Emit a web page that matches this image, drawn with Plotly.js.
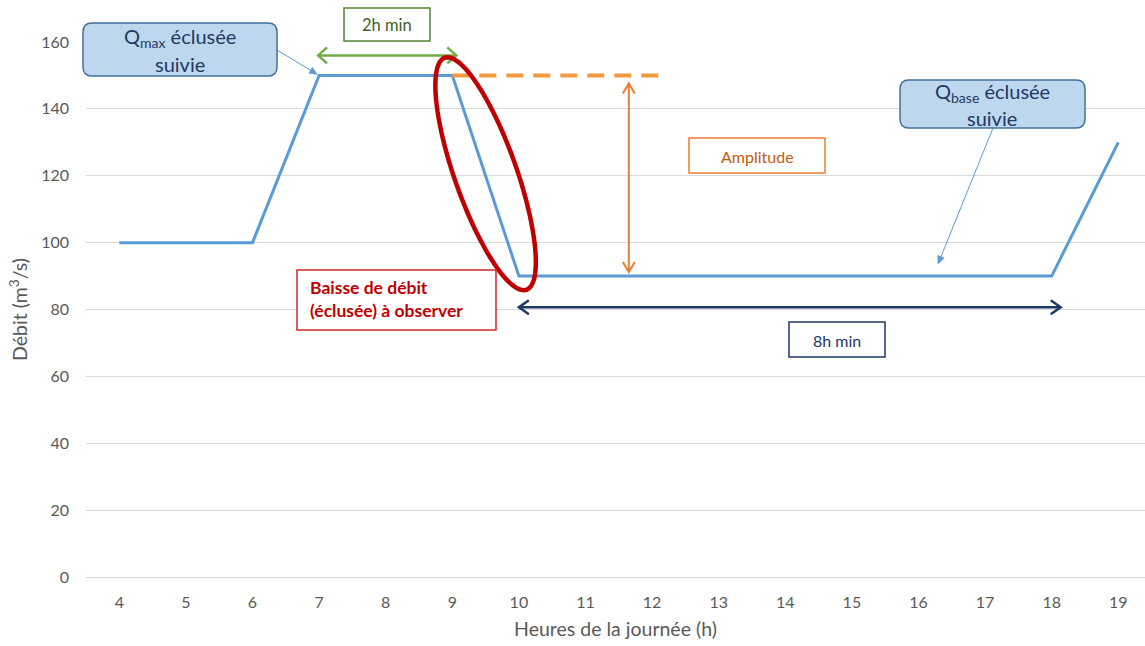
<!DOCTYPE html>
<html>
<head>
<meta charset="utf-8">
<script src="https://cdn.plot.ly/plotly-3.0.1.min.js"></script>
<style>
  html, body { margin: 0; padding: 0; background: #fff; }
  #chart { width: 1145px; height: 646px; }
</style>
</head>
<body>
<div id="chart"></div>
<script>
// Débit horaire au cours de la journée (m3/s)
const heures = [4, 5, 6, 7, 8, 9, 10, 11, 12, 13, 14, 15, 16, 17, 18, 19];
const debit = [100, 100, 100, 150, 150, 150, 90, 90, 90, 90, 90, 90, 90, 90, 90, 130];
const tickHeures = heures.map(String);

// Repères de l'éclusée : palier haut (2h min) et palier bas (8h min)
const palierHaut = [7, 9];
const palierBas = [10, 18];
const qMax = Math.max(...debit);
const qBase = Math.min(...debit);

// Géométrie du graphique
const W = 1145, H = 646;
const M = { l: 86, r: 0, t: 42, b: 69 };
const PW = W - M.l - M.r, PH = H - M.t - M.b;
const pxPerHour = 66.6;
const xRange = [3.5, 3.5 + PW / pxPerHour];
const yRange = [0, 160];
const pxPerY = PH / (yRange[1] - yRange[0]);

const FONT = 'Lato, "Open Sans", sans-serif';
const GREY = '#595959';

function toPx(x, y) { return [M.l + (x - xRange[0]) * pxPerHour, M.t + (yRange[1] - y) * pxPerY]; }
function fromPx(px, py) { return [xRange[0] + (px - M.l) / pxPerHour, yRange[1] - (py - M.t) / pxPerY]; }
function paperX(px) { return (px - M.l) / PW; }
function paperY(py) { return (H - M.b - py) / PH; }
const pt = (px, py) => { const d = fromPx(px, py); return d[0] + ',' + d[1]; };

// Flèche à deux pointes ouvertes, entre deux points en données
function doubleArrow(p1, p2, color, width, head, gap1 = 0, gap2 = 0) {
  const a = toPx(p1[0], p1[1]), b = toPx(p2[0], p2[1]);
  const dx = b[0] - a[0], dy = b[1] - a[1];
  const len = Math.hypot(dx, dy);
  const ux = dx / len, uy = dy / len;
  const nx = -uy, ny = ux;
  const s = [a[0] + ux * gap1, a[1] + uy * gap1];
  const e = [b[0] - ux * gap2, b[1] - uy * gap2];
  const chevron = (tip, dir) => {
    const bx = tip[0] - dir * ux * head.len, by = tip[1] - dir * uy * head.len;
    return 'M' + pt(bx + nx * head.half, by + ny * head.half) +
           'L' + pt(tip[0], tip[1]) +
           'L' + pt(bx - nx * head.half, by - ny * head.half);
  };
  const line = { color: color, width: width };
  return [
    { type: 'path', xref: 'x', yref: 'y', layer: 'above', line: line,
      path: 'M' + pt(s[0], s[1]) + 'L' + pt(e[0], e[1]) },
    { type: 'path', xref: 'x', yref: 'y', layer: 'above', line: line, path: chevron(s, -1) },
    { type: 'path', xref: 'x', yref: 'y', layer: 'above', line: line, path: chevron(e, 1) }
  ];
}

// Trait fin avec pointe pleine, d'une étiquette vers un point de la courbe
function pointer(tail, target, standoff, color) {
  const b = toPx(target[0], target[1]);
  const dx = b[0] - tail[0], dy = b[1] - tail[1];
  const len = Math.hypot(dx, dy);
  const ux = dx / len, uy = dy / len, nx = -uy, ny = ux;
  const tip = [b[0] - ux * standoff, b[1] - uy * standoff];
  const hl = 8, hw = 3.5;
  const base = [tip[0] - ux * hl, tip[1] - uy * hl];
  return [
    { type: 'path', xref: 'x', yref: 'y', layer: 'above', line: { color: color, width: 1 },
      path: 'M' + pt(tail[0], tail[1]) + 'L' + pt(base[0], base[1]) },
    { type: 'path', xref: 'x', yref: 'y', layer: 'above', line: { color: color, width: 0.5 }, fillcolor: color,
      path: 'M' + pt(tip[0], tip[1]) + 'L' + pt(base[0] + nx * hw, base[1] + ny * hw) +
            'L' + pt(base[0] - nx * hw, base[1] - ny * hw) + 'Z' }
  ];
}

// Rectangle (arrondi ou non) en pixels, tracé en coordonnées papier
function boxShape(x0, y0, x1, y1, r, fill, stroke, sw) {
  const P = (px, py) => paperX(px) + ',' + paperY(py);
  let path;
  if (r > 0) {
    path = 'M' + P(x0 + r, y0) + 'L' + P(x1 - r, y0) + 'Q' + P(x1, y0) + ' ' + P(x1, y0 + r) +
           'L' + P(x1, y1 - r) + 'Q' + P(x1, y1) + ' ' + P(x1 - r, y1) +
           'L' + P(x0 + r, y1) + 'Q' + P(x0, y1) + ' ' + P(x0, y1 - r) +
           'L' + P(x0, y0 + r) + 'Q' + P(x0, y0) + ' ' + P(x0 + r, y0) + 'Z';
  } else {
    path = 'M' + P(x0, y0) + 'L' + P(x1, y0) + 'L' + P(x1, y1) + 'L' + P(x0, y1) + 'Z';
  }
  return { type: 'path', xref: 'paper', yref: 'paper', layer: 'above', path: path,
           fillcolor: fill, line: { color: stroke, width: sw } };
}

function label(text, px, py, size, color, extra = {}) {
  return Object.assign({
    text: text, xref: 'paper', yref: 'paper', x: paperX(px), y: paperY(py),
    xanchor: 'center', yanchor: 'middle', showarrow: false,
    font: { family: FONT, size: size, color: color }
  }, extra);
}

// Ellipse rouge autour de la baisse de débit
function ellipseShape() {
  const i = debit.indexOf(qMax, heures.indexOf(palierHaut[1]));
  const a = toPx(heures[i], debit[i]), b = toPx(heures[i + 1], debit[i + 1]);
  const cx = (a[0] + b[0]) / 2, cy = (a[1] + b[1]) / 2 - 2;
  const rA = 123, rB = 31, ang = 70.6 * Math.PI / 180;
  let path = '';
  for (let k = 0; k <= 96; k++) {
    const t = 2 * Math.PI * k / 96;
    const px = cx + rA * Math.cos(t) * Math.cos(ang) - rB * Math.sin(t) * Math.sin(ang);
    const py = cy + rA * Math.cos(t) * Math.sin(ang) + rB * Math.sin(t) * Math.cos(ang);
    path += (k === 0 ? 'M' : 'L') + pt(px, py);
  }
  return { type: 'path', xref: 'x', yref: 'y', layer: 'above', path: path + 'Z',
           line: { color: '#C00000', width: 4.5 } };
}

const traces = [
  {
    type: 'scatter', mode: 'lines', x: heures, y: debit,
    line: { color: '#5B9BD5', width: 3 }, hoverinfo: 'x+y', showlegend: false
  }
];

const shapes = [
  // niveau Qmax prolongé (pointillés)
  { type: 'line', xref: 'x', yref: 'y', layer: 'above', x0: palierHaut[1], x1: 12.15, y0: qMax, y1: qMax,
    line: { color: '#F29A3F', width: 4, dash: '17px,10px' } },
  ...doubleArrow([palierHaut[0], qMax + 6], [palierHaut[1], qMax + 6], '#70AD47', 2.5, { len: 9, half: 8 }, -1, -4),
  ...doubleArrow([11.65, qMax], [11.65, qBase], '#ED7D31', 2, { len: 10, half: 6 }, 8, 4),
  ...doubleArrow([palierBas[0], qBase - 9.3], [palierBas[1], qBase - 9.3], '#203864', 2.5, { len: 10, half: 7 }, 0, -9),
  ellipseShape(),
  // pointeurs vers les paliers
  ...pointer([277, 50], [palierHaut[0], qMax], 2, '#5B9BD5'),
  ...pointer([993, 128], [16.22, qBase], 13, '#5B9BD5'),
  // cadres des étiquettes
  boxShape(83, 23, 277, 76, 9, '#BDD7EE', '#41719C', 1.5),
  boxShape(900, 80, 1085, 128, 9, '#BDD7EE', '#41719C', 1.5),
  boxShape(344, 8, 430, 41, 0, '#FFFFFF', '#548235', 1.5),
  boxShape(689, 138, 825, 173, 0, '#FFFFFF', '#ED7D31', 1.5),
  boxShape(297, 270, 496, 330, 0, '#FFFFFF', '#D02A2A', 1.5),
  boxShape(789, 322, 885, 357, 0, '#FFFFFF', '#203864', 1.5)
];

const annotations = [
  label('Q<sub>max</sub> éclusée', 180, 37, 20, '#1F3864'),
  label('suivie', 180, 64, 20, '#1F3864'),
  label('Q<sub>base</sub> éclusée', 992, 92, 20, '#1F3864'),
  label('suivie', 992, 118, 20, '#1F3864'),
  label('2h min', 387, 25, 16.5, '#3B6128'),
  label('Amplitude', 757, 156, 16, '#C65911'),
  label('8h min', 837, 340, 16, '#203864'),
  label('<b>Baisse de débit</b>', 308, 287, 17.5, '#C00000', { xanchor: 'left' }),
  label('<b>(éclusée) à observer</b>', 308, 310, 17.5, '#C00000', { xanchor: 'left' })
];

const layout = {
  width: W, height: H,
  margin: M,
  paper_bgcolor: '#FFFFFF', plot_bgcolor: '#FFFFFF',
  font: { family: FONT, color: GREY },
  showlegend: false,
  xaxis: {
    type: 'linear', range: xRange, tickvals: heures, ticktext: tickHeures,
    showgrid: false, zeroline: false, showline: false, ticks: '',
    tickfont: { family: FONT, size: 16, color: GREY }, ticklabelstandoff: 14,
    title: { text: 'Heures de la journée (h)', font: { family: FONT, size: 19.5, color: GREY }, standoff: 12 },
    fixedrange: true
  },
  yaxis: {
    range: yRange, dtick: 20, tick0: 0,
    showgrid: true, gridcolor: '#D9D9D9', gridwidth: 1,
    zeroline: true, zerolinecolor: '#D9D9D9', zerolinewidth: 1,
    showline: false, ticks: '',
    tickfont: { family: FONT, size: 16, color: GREY }, ticklabelstandoff: 16,
    title: { text: 'Débit (m<sup>3</sup>/s)', font: { family: FONT, size: 19.5, color: GREY }, standoff: 8 },
    fixedrange: true
  },
  shapes: shapes,
  annotations: annotations
};

Plotly.newPlot('chart', traces, layout, { displayModeBar: false, staticPlot: true });
</script>
</body>
</html>
